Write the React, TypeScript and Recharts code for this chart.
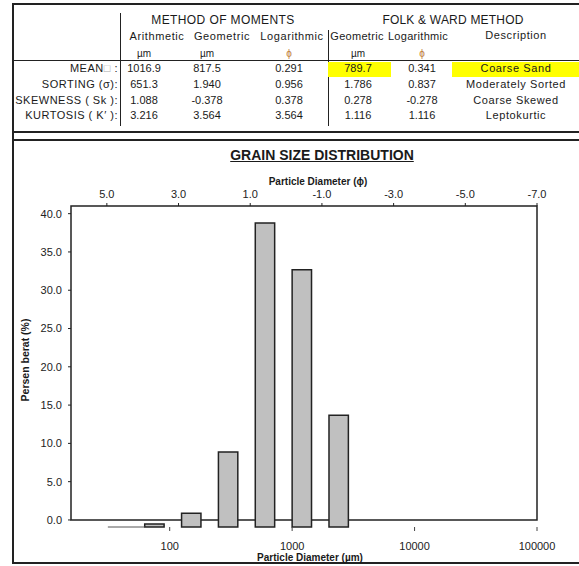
import React from 'react'
import { ComposedChart, XAxis, YAxis, ReferenceArea, ReferenceLine } from 'recharts'

// statistics table
const statLabels = ['MEAN', 'SORTING (σ):', 'SKEWNESS ( Sk ):', 'KURTOSIS ( K′ ):']
const momArith = ['1016.9', '651.3', '1.088', '3.216']
const momGeo = ['817.5', '1.940', '-0.378', '3.564']
const momLog = ['0.291', '0.956', '0.378', '3.564']
const folkGeo = ['789.7', '1.786', '0.278', '1.116']
const folkLog = ['0.341', '0.837', '-0.278', '1.116']
const folkDesc = ['Coarse Sand', 'Moderately Sorted', 'Coarse Skewed', 'Leptokurtic']

// sieve classes (µm / phi) and weight retained (%)
const binFrom = [31.25, 62.5, 125, 250, 500, 1000, 2000]
const binTo = [62.5, 90, 180, 360, 720, 1440, 2880]
const binPhi = [5, 4, 3, 2, 1, 0, -1]
const weightPct = [0, 0.4, 1.8, 9.8, 39.7, 33.6, 14.6]

const umTicks = [100, 1000, 10000, 100000]
const phiTicks = [5, 3, 1, -1, -3, -5, -7]
const pctTicks = [0, 5, 10, 15, 20, 25, 30, 35, 40]

const rows = binFrom.map((d, i) => ({ size: d, phi: binPhi[i], pct: weightPct[i] }))

const FONT = "Arial, 'Liberation Sans', sans-serif"
const INK = '#1a1a1a'

function Txt({ x, y, children, anchor = 'middle', size = 11, bold = false, style = {} }: any) {
  const tx = anchor === 'middle' ? '-50%' : anchor === 'end' ? '-100%' : '0'
  return (
    <div
      style={{
        position: 'absolute', left: x, top: y, transform: `translate(${tx},-50%)`,
        fontSize: size, lineHeight: 1, whiteSpace: 'nowrap', fontFamily: FONT,
        fontWeight: bold ? 700 : 400, color: INK, ...style,
      }}
    >
      {children}
    </div>
  )
}

function Rule({ x, y, w, h, color = '#222' }: any) {
  return <div style={{ position: 'absolute', left: x, top: y, width: w, height: h, background: color }} />
}

const rowY = [68, 84, 99.5, 115]
const colX = { arith: 144, geo: 207, log: 289, fGeo: 358, fLog: 422, desc: 516 }
const wide = { letterSpacing: 0.6 }

export default function App() {
  return (
    <div style={{ position: 'absolute', left: 0, top: 0, width: 579, height: 566, background: '#fff', overflow: 'hidden' }}>
      <div style={{ position: 'absolute', left: 0, top: 0 }}>
        <ComposedChart
          width={579}
          height={566}
          data={rows}
          margin={{ top: 176, right: 42, bottom: 9, left: 21 }}
        >
          <XAxis
            xAxisId="um"
            dataKey="size"
            type="number"
            scale="log"
            domain={[15.625, 100000]}
            allowDataOverflow
            ticks={umTicks}
            height={30}
            axisLine={false}
            tickLine={{ stroke: '#444' }}
            tickSize={4}
            tickMargin={11}
            tick={{ fontSize: 11, fill: '#222', fontFamily: FONT }}
          />
          <XAxis
            xAxisId="phi"
            dataKey="phi"
            orientation="top"
            type="number"
            domain={[-7, 6]}
            reversed
            allowDataOverflow
            ticks={phiTicks}
            interval={0}
            height={30}
            axisLine={false}
            tickLine={{ stroke: '#222' }}
            tickSize={3}
            tickMargin={5}
            tickFormatter={(v: number) => v.toFixed(1)}
            tick={{ fontSize: 11, fill: '#222', fontFamily: FONT }}
          />
          <YAxis
            yAxisId="pct"
            dataKey="pct"
            type="number"
            domain={[-0.92, 41]}
            allowDataOverflow
            ticks={pctTicks}
            interval={0}
            width={50}
            axisLine={false}
            tickLine={{ stroke: '#222' }}
            tickSize={3}
            tickMargin={6}
            tickFormatter={(v: number) => v.toFixed(1)}
            tick={{ fontSize: 11, fill: '#222', fontFamily: FONT }}
          />
          <YAxis yAxisId="bar" orientation="right" width={0} hide type="number" domain={[0, 41.92]} allowDataOverflow />

          {/* plot frame, x-axis sits at 0 % */}
          <ReferenceArea
            xAxisId="um"
            yAxisId="pct"
            x1={15.625}
            x2={100000}
            y1={0}
            y2={41}
            fill="none"
            stroke="#222"
            strokeWidth={1.5}
            ifOverflow="visible"
          />

          {binFrom.map((d, i) =>
            weightPct[i] > 0 ? (
              <ReferenceArea
                key={d}
                xAxisId="um"
                yAxisId="bar"
                x1={d}
                x2={binTo[i]}
                y1={0}
                y2={weightPct[i]}
                fill="#c0c0c0"
                fillOpacity={1}
                stroke="#222"
                strokeWidth={1.5}
                ifOverflow="visible"
              />
            ) : (
              <ReferenceLine
                key={d}
                xAxisId="um"
                yAxisId="bar"
                segment={[{ x: d, y: 0 }, { x: binTo[i], y: 0 }]}
                stroke="#555"
                strokeWidth={1}
                ifOverflow="visible"
              />
            )
          )}
        </ComposedChart>
      </div>

      {/* frame lines */}
      <Rule x={12} y={3} w={567} h={2} />
      <Rule x={12} y={3} w={2} h={561} />
      <Rule x={12} y={131} w={567} h={2} />
      <Rule x={12} y={139} w={567} h={2} />
      <Rule x={12} y={562} w={567} h={2} />
      <Rule x={12} y={60} w={567} h={1} />
      <Rule x={119.5} y={13} w={1} h={113} />
      <Rule x={327.5} y={30} w={1} h={96} />

      {/* highlights */}
      <Rule x={328} y={62} w={63} h={15} color="#ffff00" />
      <Rule x={452} y={62} w={127} h={15} color="#ffff00" />

      {/* table header */}
      <Txt x={223} y={20} size={12} style={{ letterSpacing: 0.4 }}>METHOD OF MOMENTS</Txt>
      <Txt x={453} y={20} size={12} style={{ letterSpacing: 0.2 }}>FOLK &amp; WARD METHOD</Txt>
      <Txt x={157} y={36} style={wide}>Arithmetic</Txt>
      <Txt x={222} y={36} style={wide}>Geometric</Txt>
      <Txt x={292} y={36} style={wide}>Logarithmic</Txt>
      <Txt x={357} y={36} style={{ letterSpacing: 0.3 }}>Geometric</Txt>
      <Txt x={418} y={36} style={{ letterSpacing: 0.3 }}>Logarithmic</Txt>
      <Txt x={516} y={35} style={wide}>Description</Txt>
      <Txt x={colX.arith} y={54} size={10}>µm</Txt>
      <Txt x={colX.geo} y={54} size={10}>µm</Txt>
      <Txt x={colX.log} y={54} size={10} style={{ color: '#c08040' }}>ϕ</Txt>
      <Txt x={colX.fGeo} y={54} size={10}>µm</Txt>
      <Txt x={colX.fLog} y={54} size={10} style={{ color: '#c08040' }}>ϕ</Txt>

      {statLabels.map((lab, i) => (
        <Txt key={lab} x={118} y={rowY[i]} anchor="end" style={{ letterSpacing: 0.5 }}>
          {i === 0 ? (
            <>MEAN<span style={{ color: '#aaa' }}>□</span> :</>
          ) : (
            lab
          )}
        </Txt>
      ))}
      {rowY.map((y, i) => (
        <React.Fragment key={y}>
          <Txt x={colX.arith} y={y}>{momArith[i]}</Txt>
          <Txt x={colX.geo} y={y}>{momGeo[i]}</Txt>
          <Txt x={colX.log} y={y}>{momLog[i]}</Txt>
          <Txt x={colX.fGeo} y={y}>{folkGeo[i]}</Txt>
          <Txt x={colX.fLog} y={y}>{folkLog[i]}</Txt>
          <Txt x={colX.desc} y={y} style={wide}>{folkDesc[i]}</Txt>
        </React.Fragment>
      ))}

      {/* chart titles */}
      <Txt x={322} y={155} size={14} bold style={{ textDecoration: 'underline' }}>GRAIN SIZE DISTRIBUTION</Txt>
      <Txt x={318} y={182} size={10} bold>Particle Diameter (ϕ)</Txt>
      <Txt x={310} y={558} size={10} bold>Particle Diameter (µm)</Txt>
      <Txt x={25} y={360} size={10.5} bold style={{ transform: 'translate(-50%,-50%) rotate(-90deg)' }}>Persen berat (%)</Txt>
    </div>
  )
}
